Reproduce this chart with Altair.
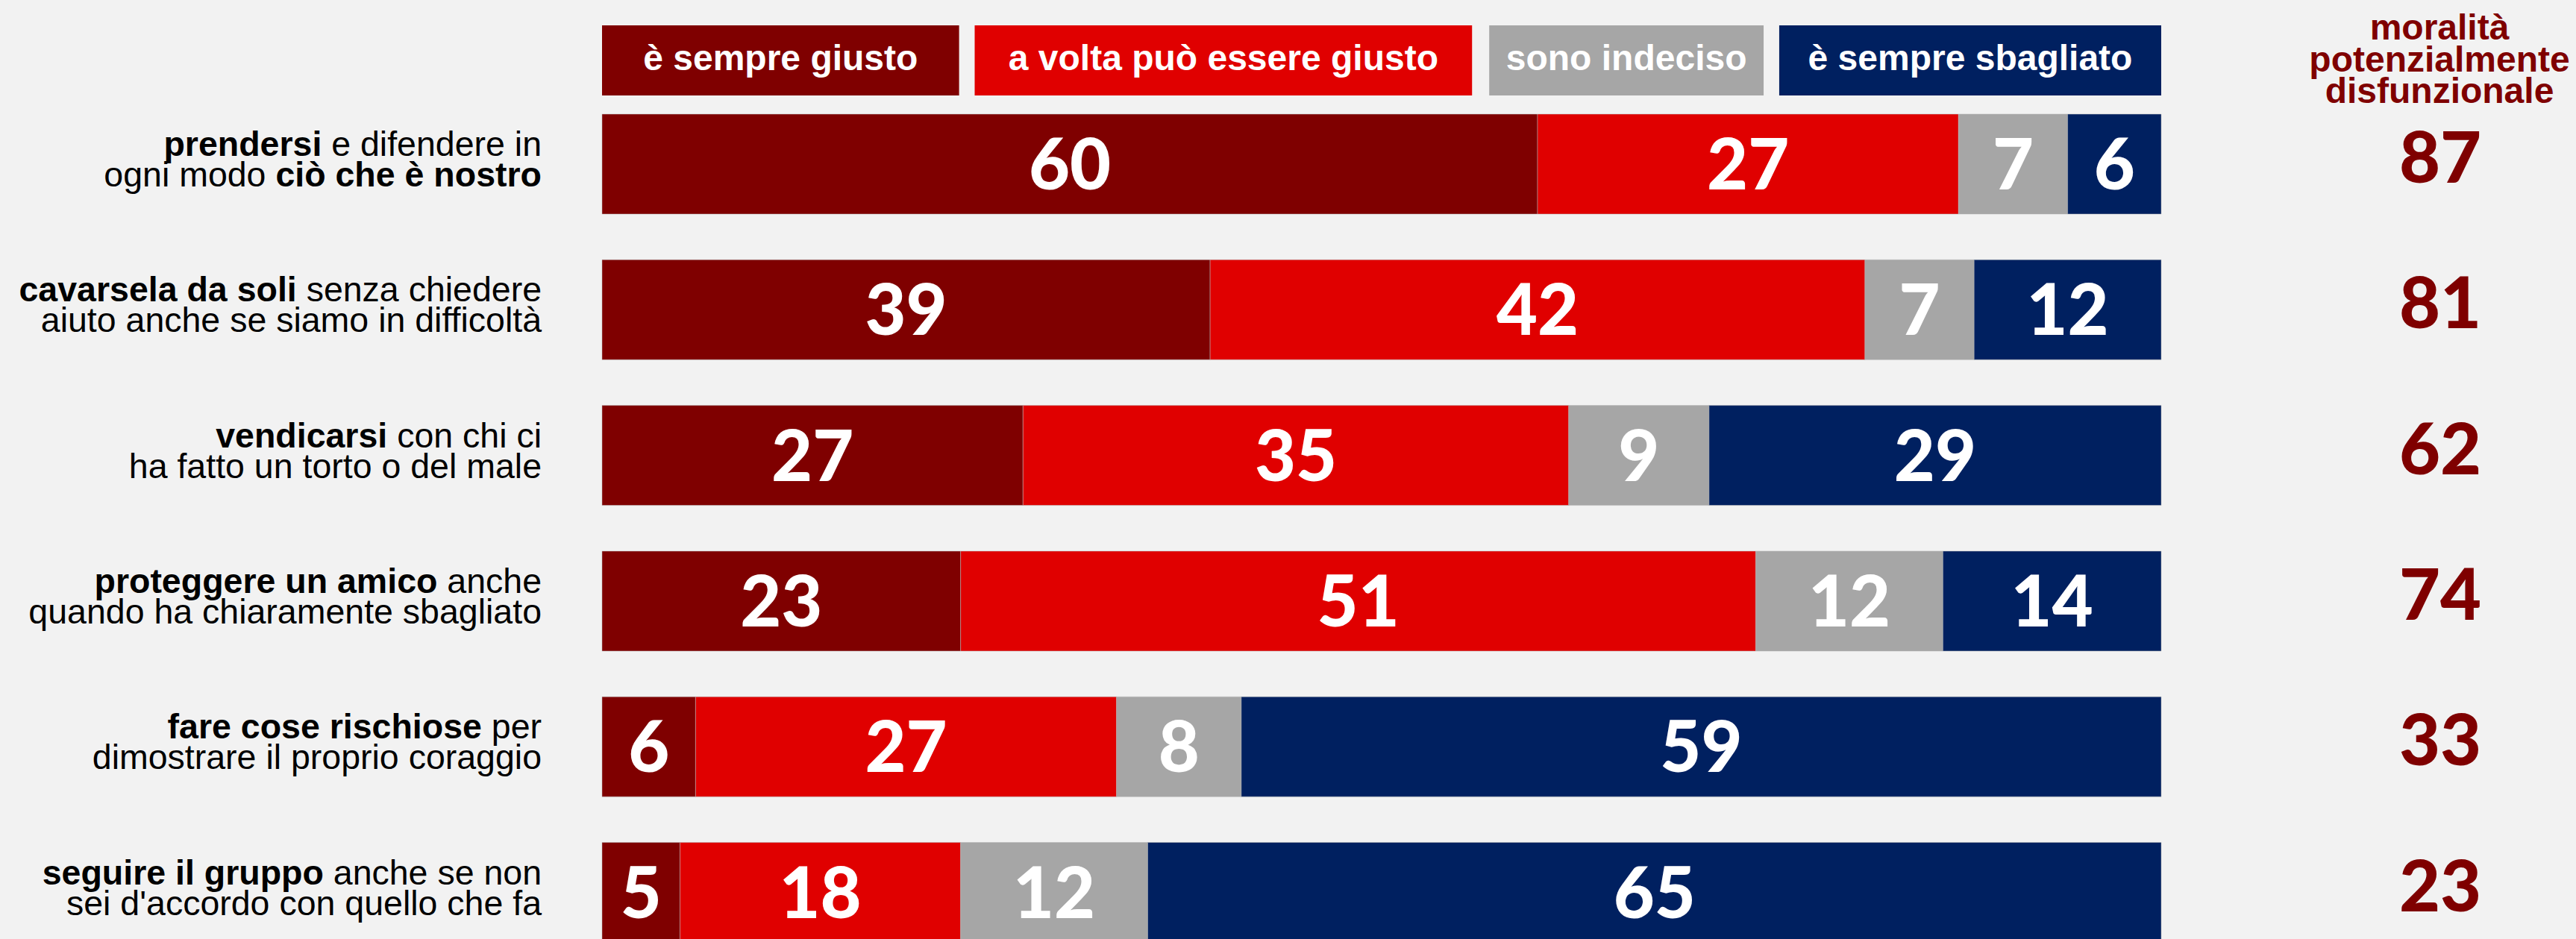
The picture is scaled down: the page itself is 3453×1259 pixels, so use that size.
import altair as alt
import pandas as pd

# ---------------- data ----------------
rows = ["r1", "r2", "r3", "r4", "r5", "r6"]
categories = ["è sempre giusto", "a volta può essere giusto", "sono indeciso", "è sempre sbagliato"]
colors = ["#7f0000", "#e00000", "#a6a6a6", "#002060"]

sempre_giusto = [60, 39, 27, 23, 6, 5]
a_volta = [27, 42, 35, 51, 27, 18]
indeciso = [7, 7, 9, 12, 8, 12]
sempre_sbagliato = [6, 12, 29, 14, 59, 65]
moralita = [87, 81, 62, 74, 33, 23]

title_lines = ["moralità", "potenzialmente", "disfunzionale"]

# each label: two lines, each a list of (text, bold) segments
labels = [
    [[("prendersi", True), ("e difendere in", False)], [("ogni modo", False), ("ciò che è nostro", True)]],
    [[("cavarsela da soli", True), ("senza chiedere", False)], [("aiuto anche se siamo in difficoltà", False)]],
    [[("vendicarsi", True), ("con chi ci", False)], [("ha fatto un torto o del male", False)]],
    [[("proteggere un amico", True), ("anche", False)], [("quando ha chiaramente sbagliato", False)]],
    [[("fare cose rischiose", True), ("per", False)], [("dimostrare il proprio coraggio", False)]],
    [[("seguire il gruppo", True), ("anche se non", False)], [("sei d'accordo con quello che fa", False)]],
]

# legend box spans, in units of the bar scale (0-100)
leg_start = [0, 23.9, 56.9, 75.5]
leg_end = [22.9, 55.8, 74.5, 100]

# ---------------- layout / style ----------------
W, H = 3453, 1259
BG = "#f2f2f2"
X_RANGE = [807, 2897]
Y_RANGE = [153, 1263.5]
LABEL_RIGHT = 726
LABEL_SIZE = 46.5
FONT = "Liberation Sans"
NUM_FONT = "Lato"

# Helvetica/Arial advance widths (per 1000 em)
REG = dict(zip("abcdefghijklmnopqrstuvwxyz",
               [556, 556, 500, 556, 556, 278, 556, 556, 222, 222, 500, 222, 833,
                556, 556, 556, 556, 333, 500, 278, 556, 500, 722, 500, 500, 500]))
REG.update({" ": 278, "'": 191, "à": 556, "è": 556, "ò": 556})
BOLD = dict(zip("abcdefghijklmnopqrstuvwxyz",
                [556, 611, 556, 611, 556, 333, 611, 611, 278, 278, 556, 278, 889,
                 611, 611, 611, 611, 389, 556, 333, 611, 556, 778, 556, 556, 500]))
BOLD.update({" ": 278, "'": 238, "à": 556, "è": 556, "ò": 611})


def text_width(s, bold):
    t = BOLD if bold else REG
    return sum(t.get(c, 556) for c in s) * LABEL_SIZE / 1000.0


# ---------------- tables ----------------
series = [sempre_giusto, a_volta, indeciso, sempre_sbagliato]
bar_records = []
for i, r in enumerate(rows):
    cum = 0
    for k, cat in enumerate(categories):
        v = series[k][i]
        bar_records.append({"row": r, "cat": cat, "start": cum, "end": cum + v,
                            "mid": cum + v / 2, "value": v})
        cum += v
bars_df = pd.DataFrame(bar_records)

seg_records = []
for i, r in enumerate(rows):
    for li, line in enumerate(labels[i]):
        right = LABEL_RIGHT
        for text, bold in reversed(line):
            seg_records.append({"row": r, "line": li, "text": text, "bold": bold, "xr": right})
            right -= text_width(text, bold) + 278 * LABEL_SIZE / 1000.0
seg_df = pd.DataFrame(seg_records)

leg_df = pd.DataFrame({"cat": categories, "s": leg_start, "e": leg_end})
leg_df["mid"] = (leg_df["s"] + leg_df["e"]) / 2

mor_df = pd.DataFrame({"row": rows, "value": moralita})

# ---------------- scales ----------------
xscale = alt.Scale(domain=[0, 100], range=X_RANGE, nice=False, zero=False)
yscale = alt.Scale(domain=rows, range=Y_RANGE, paddingInner=0.314, paddingOuter=0)
cscale = alt.Scale(domain=categories, range=colors)

# ---------------- layers ----------------
bars = alt.Chart(bars_df).mark_bar(stroke="#b8b8b8", strokeWidth=1, strokeOpacity=0.5).encode(
    x=alt.X("start:Q", scale=xscale, axis=None),
    x2="end:Q",
    y=alt.Y("row:N", scale=yscale, axis=None),
    color=alt.Color("cat:N", scale=cscale, legend=None),
)

bar_text = alt.Chart(bars_df).mark_text(
    font=NUM_FONT, fontSize=95, fontWeight=900, color="white",
    align="center", baseline="alphabetic", dy=34,
).encode(
    x=alt.X("mid:Q", scale=xscale, axis=None),
    y=alt.Y("row:N", scale=yscale, axis=None),
    text="value:Q",
)

leg_rect = alt.Chart(leg_df).mark_rect().encode(
    x=alt.X("s:Q", scale=xscale, axis=None),
    x2="e:Q",
    y=alt.value(34),
    y2=alt.value(128),
    color=alt.Color("cat:N", scale=cscale, legend=None),
)

leg_text = alt.Chart(leg_df).mark_text(
    font=FONT, fontSize=48, fontWeight="bold", color="white",
    align="center", baseline="alphabetic",
).encode(
    x=alt.X("mid:Q", scale=xscale, axis=None),
    y=alt.value(94),
    text="cat:N",
)

label_layers = []
for li, dy in [(0, -11), (1, 30)]:
    for bold in [True, False]:
        sub = seg_df[(seg_df["line"] == li) & (seg_df["bold"] == bold)]
        if len(sub) == 0:
            continue
        label_layers.append(
            alt.Chart(sub).mark_text(
                font=FONT, fontSize=LABEL_SIZE, fontWeight="bold" if bold else "normal",
                color="black", align="right", baseline="alphabetic", dy=dy,
            ).encode(
                x=alt.X("xr:Q", scale=None, axis=None),
                y=alt.Y("row:N", scale=yscale, axis=None),
                text="text:N",
            )
        )

title = alt.Chart(pd.DataFrame({"t": [0]})).mark_text(
    text=title_lines, font=FONT, fontSize=48, fontWeight="bold", color="#7f0000",
    align="center", baseline="alphabetic", lineHeight=42.5,
).encode(x=alt.value(3270), y=alt.value(53))

mor_text = alt.Chart(mor_df).mark_text(
    font=NUM_FONT, fontSize=95, fontWeight=900, color="#7f0000",
    align="center", baseline="alphabetic", dy=25,
).encode(
    x=alt.value(3271),
    y=alt.Y("row:N", scale=yscale, axis=None),
    text="value:Q",
)

chart = alt.layer(
    bars, bar_text, leg_rect, leg_text, *label_layers, title, mor_text
).resolve_scale(x="independent").properties(
    width=W, height=H, background=BG, padding=0,
    autosize=alt.AutoSizeParams(type="none"),
).configure_view(stroke=None)

chart.save("out.html", embed_options={"renderer": "svg", "actions": False})
